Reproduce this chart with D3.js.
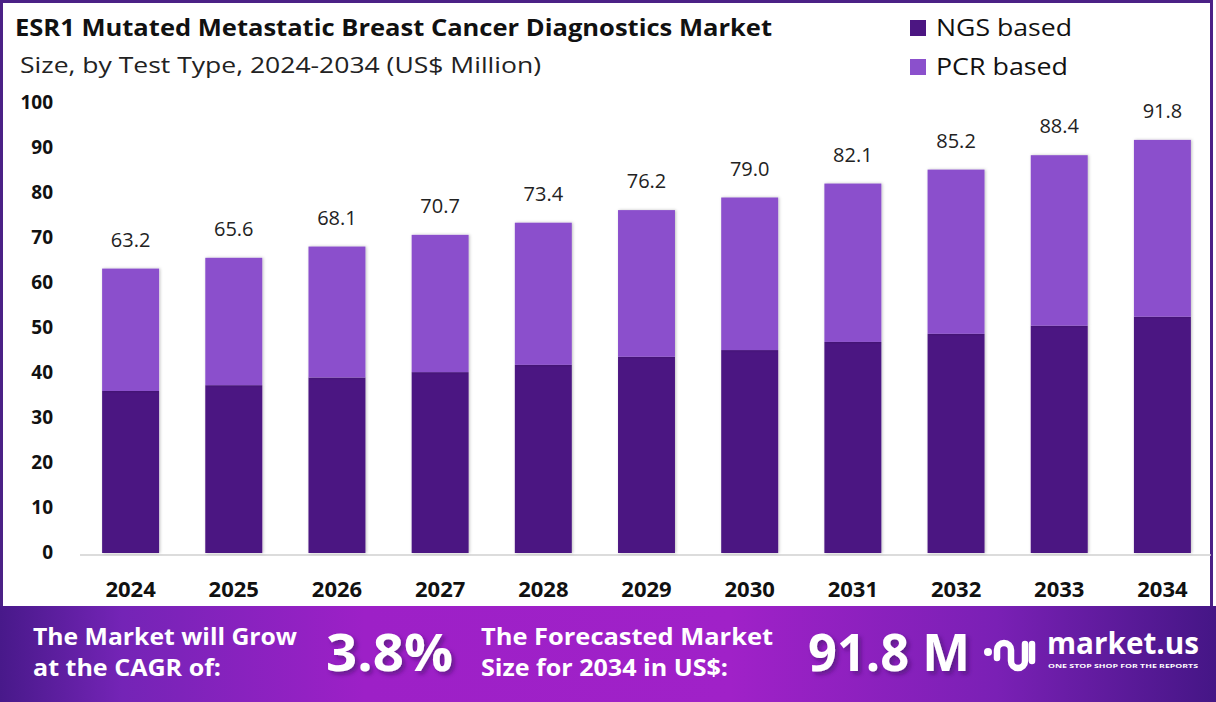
<!DOCTYPE html>
<html>
<head>
<meta charset="utf-8">
<script src="https://cdn.jsdelivr.net/npm/d3@7"></script>
<style>
  body { margin: 0; background: #fff; }
  svg { display: block; }
  text { font-family: "Open Sans", Lato, sans-serif; }
</style>
</head>
<body>
<div id="canvas"></div>
<script>
"use strict";

// Data
let years = ["2024", "2025", "2026", "2027", "2028", "2029", "2030", "2031", "2032", "2033", "2034"];
let ngsValues = [36.0, 37.3, 39.0, 40.2, 41.8, 43.6, 45.1, 46.9, 48.7, 50.5, 52.5];
let pcrValues = [27.2, 28.3, 29.1, 30.5, 31.6, 32.6, 33.9, 35.2, 36.5, 37.9, 39.3];
let totalLabels = ["63.2", "65.6", "68.1", "70.7", "73.4", "76.2", "79.0", "82.1", "85.2", "88.4", "91.8"];
let yTicks = [0, 10, 20, 30, 40, 50, 60, 70, 80, 90, 100];
let seriesNames = ["NGS based", "PCR based"];

let svgWidth = 1216;
let svgHeight = 702;

let ngsColor = "#4c1682";
let pcrColor = "#8b50cc";

let svg = d3.select("#canvas")
    .append("svg")
    .attr("width", svgWidth)
    .attr("height", svgHeight);

let defs = svg.append("defs");

let shadow = defs.append("filter")
    .attr("id", "barShadow")
    .attr("x", "-20%").attr("y", "-5%")
    .attr("width", "140%").attr("height", "110%");
shadow.append("feDropShadow")
    .attr("dx", 1).attr("dy", 0)
    .attr("stdDeviation", 1.5)
    .attr("flood-color", "#000")
    .attr("flood-opacity", 0.25);

let textShadow = defs.append("filter")
    .attr("id", "textShadow")
    .attr("x", "-10%").attr("y", "-10%")
    .attr("width", "130%").attr("height", "130%");
textShadow.append("feDropShadow")
    .attr("dx", 3).attr("dy", 3)
    .attr("stdDeviation", 2)
    .attr("flood-color", "#3a0a60")
    .attr("flood-opacity", 0.55);

let grad = defs.append("linearGradient")
    .attr("id", "bannerGrad")
    .attr("x1", "0%").attr("x2", "100%")
    .attr("y1", "0%").attr("y2", "0%");
[
    [0, "#48198a"], [0.1, "#7424b6"], [0.3, "#9d20c7"],
    [0.6, "#a021c8"], [0.82, "#7a20b5"], [1, "#451686"]
].forEach(s => grad.append("stop")
    .attr("offset", s[0])
    .attr("stop-color", s[1]));

// Frame
svg.append("rect")
    .attr("x", 1.5)
    .attr("y", 1.5)
    .attr("width", 1210)
    .attr("height", 606)
    .attr("fill", "#fff")
    .attr("stroke", "#4b2186")
    .attr("stroke-width", 3);

// Title
svg.append("text")
    .attr("x", 15)
    .attr("y", 36)
    .attr("font-size", 24)
    .attr("font-weight", "bold")
    .attr("fill", "#111")
    .attr("textLength", 757)
    .attr("lengthAdjust", "spacingAndGlyphs")
    .text("ESR1 Mutated Metastatic Breast Cancer Diagnostics Market");

svg.append("text")
    .attr("x", 20)
    .attr("y", 73)
    .attr("font-size", 21)
    .attr("fill", "#222")
    .attr("textLength", 521)
    .attr("lengthAdjust", "spacingAndGlyphs")
    .text("Size, by Test Type, 2024-2034 (US$ Million)");

// Legend
let legendColors = [ngsColor, pcrColor];
seriesNames.forEach((name, i) => {
    svg.append("rect")
        .attr("x", 910)
        .attr("y", 20 + i * 39)
        .attr("width", 16)
        .attr("height", 16)
        .attr("fill", legendColors[i]);
    svg.append("text")
        .attr("x", 936)
        .attr("y", 36 + i * 39)
        .attr("font-size", 23)
        .attr("fill", "#111")
        .attr("textLength", i === 0 ? 136 : 132)
        .attr("lengthAdjust", "spacingAndGlyphs")
        .text(name);
});

// Scales
let xScale = d3.scaleBand()
    .domain(years)
    .range([79, 1214])
    .paddingInner(0.448)
    .paddingOuter(0.224);

let yScale = d3.scaleLinear()
    .domain([0, 100])
    .range([553, 103]);

// Baseline
svg.append("line")
    .attr("x1", 80)
    .attr("x2", 1211)
    .attr("y1", 555)
    .attr("y2", 555)
    .attr("stroke", "#d0d0d0")
    .attr("stroke-width", 1.5);

// Y axis labels
let yAxis = svg.append("g")
    .attr("transform", "translate(53,-1)")
    .call(d3.axisLeft(yScale).tickValues(yTicks).tickSize(0).tickPadding(0));
yAxis.select(".domain").remove();
yAxis.selectAll("text")
    .attr("font-family", "'Open Sans', Lato, sans-serif")
    .attr("font-size", 19)
    .attr("font-weight", "bold")
    .attr("fill", "#111");

// X axis labels
let xAxis = svg.append("g")
    .attr("transform", "translate(0,581)")
    .call(d3.axisBottom(xScale).tickSize(0).tickPadding(0));
xAxis.select(".domain").remove();
xAxis.selectAll("text")
    .attr("font-family", "'Open Sans', Lato, sans-serif")
    .attr("font-size", 22)
    .attr("font-weight", "bold")
    .attr("fill", "#111");

// Stacked bars
let rows = years.map((y, i) => ({ year: y, ngs: ngsValues[i], pcr: pcrValues[i] }));
let stacked = d3.stack().keys(["ngs", "pcr"])(rows);
let stackColors = { ngs: ngsColor, pcr: pcrColor };

svg.append("g")
    .selectAll("g")
    .data(stacked)
    .join("g")
    .attr("fill", d => stackColors[d.key])
    .selectAll("rect")
    .data(d => d)
    .join("rect")
    .attr("x", d => xScale(d.data.year))
    .attr("y", d => yScale(d[1]))
    .attr("width", xScale.bandwidth())
    .attr("height", d => yScale(d[0]) - yScale(d[1]))
    .attr("filter", "url(#barShadow)");

// Total labels
let topLayer = stacked[stacked.length - 1];
svg.append("g")
    .selectAll("text")
    .data(topLayer)
    .join("text")
    .attr("x", d => xScale(d.data.year) + xScale.bandwidth() / 2)
    .attr("y", d => yScale(d[1]) - 22)
    .attr("text-anchor", "middle")
    .attr("font-size", 20)
    .attr("fill", "#222")
    .text((d, i) => totalLabels[i]);

// Bottom banner
svg.append("rect")
    .attr("x", 0)
    .attr("y", 606)
    .attr("width", svgWidth)
    .attr("height", svgHeight - 606)
    .attr("fill", "url(#bannerGrad)");

let banner = svg.append("g")
    .attr("fill", "#fff")
    .attr("font-weight", "bold");

let bannerLines = [
    { x: 33, y: 645, t: "The Market will Grow", w: 264 },
    { x: 33, y: 676, t: "at the CAGR of:", w: 188 },
    { x: 481, y: 645, t: "The Forecasted Market", w: 292 },
    { x: 481, y: 676, t: "Size for 2034 in US$:", w: 247 }
];
bannerLines.forEach(d => {
    banner.append("text")
        .attr("x", d.x)
        .attr("y", d.y)
        .attr("font-size", 23)
        .attr("textLength", d.w)
        .attr("lengthAdjust", "spacingAndGlyphs")
        .text(d.t);
});

banner.append("text")
    .attr("x", 326)
    .attr("y", 671)
    .attr("font-size", 52)
    .attr("textLength", 127)
    .attr("lengthAdjust", "spacingAndGlyphs")
    .attr("filter", "url(#textShadow)")
    .text("3.8%");

banner.append("text")
    .attr("x", 808)
    .attr("y", 671)
    .attr("font-size", 52)
    .attr("textLength", 162)
    .attr("lengthAdjust", "spacingAndGlyphs")
    .attr("filter", "url(#textShadow)")
    .text("91.8 M");

// market.us logo
let logo = svg.append("g");
logo.append("circle")
    .attr("cx", 988)
    .attr("cy", 652)
    .attr("r", 4)
    .attr("fill", "#fff");
logo.append("path")
    .attr("d", "M997,658 V650 A7,7 0 0 1 1011,650 V661 A7,7 0 0 0 1025,661 V644 M1032,644 V661")
    .attr("fill", "none")
    .attr("stroke", "#fff")
    .attr("stroke-width", 6.5)
    .attr("stroke-linecap", "round");

logo.append("text")
    .attr("x", 1047)
    .attr("y", 654)
    .attr("font-size", 30)
    .attr("font-weight", "bold")
    .attr("fill", "#fff")
    .attr("textLength", 152)
    .attr("lengthAdjust", "spacingAndGlyphs")
    .text("market.us");

logo.append("text")
    .attr("x", 1048)
    .attr("y", 668)
    .attr("font-size", 6)
    .attr("font-weight", "bold")
    .attr("fill", "#fff")
    .attr("textLength", 150)
    .attr("lengthAdjust", "spacingAndGlyphs")
    .text("ONE STOP SHOP FOR THE REPORTS");
</script>
</body>
</html>
